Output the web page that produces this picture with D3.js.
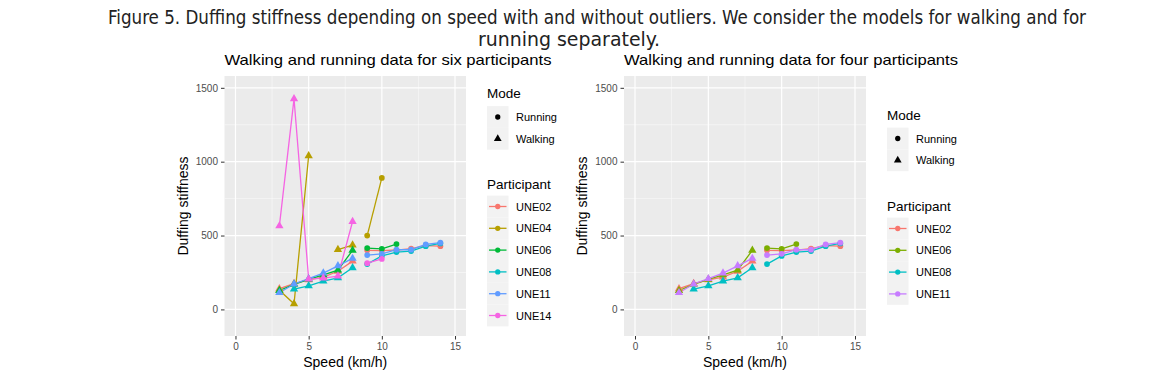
<!DOCTYPE html>
<html><head><meta charset="utf-8">
<script src="https://cdn.jsdelivr.net/npm/d3@7"></script>
<style>
html,body{margin:0;padding:0;background:#fff;}
svg{display:block;}
</style></head>
<body>
<svg id="chart" width="1153" height="378"></svg>
<script>
// ---- data ----
const walkSpeed = [3, 4, 5, 6, 7, 8];
const runSpeed = [9, 10, 11, 12, 13, 14];
const une02Walk = [140, 175, 200, 218, 258, 327];
const une02Run = [400, 398, 402, 412, 432, 428];
const une04Walk = [130, 38, 1040, null, 405, 435];
const une04Run = [500, 890, null, null, null, null];
const une06Walk = [128, 170, 203, 234, 266, 400];
const une06Run = [415, 410, 442, null, null, null];
const une08Walk = [null, 138, 160, 192, 214, 282];
const une08Run = [307, 362, 388, 395, 428, 447];
const une11Walk = [113, 172, 208, 246, 295, 345];
const une11Run = [368, 376, 404, 404, 440, 452];
const une14Walk = [565, 1425, 205, 212, 225, 595];
const une14Run = [313, 342, null, null, null, null];

const xTicks = [0, 5, 10, 15];
const yTicks = [0, 500, 1000, 1500];
const modes = ["Running", "Walking"];

const sixNames = ["UNE02", "UNE04", "UNE06", "UNE08", "UNE11", "UNE14"];
const sixColors = ["#F8766D", "#B79F00", "#00BA38", "#00BFC4", "#619CFF", "#F564E3"];
const fourNames = ["UNE02", "UNE06", "UNE08", "UNE11"];
const fourColors = ["#F8766D", "#7CAE00", "#00BFC4", "#C77CFF"];

const allData = {
  UNE02: [une02Walk, une02Run], UNE04: [une04Walk, une04Run], UNE06: [une06Walk, une06Run],
  UNE08: [une08Walk, une08Run], UNE11: [une11Walk, une11Run], UNE14: [une14Walk, une14Run]
};

const captionLines = [
  "Figure 5. Duffing stiffness depending on speed with and without outliers. We consider the models for walking and for",
  "running separately."
];
const titles = ["Walking and running data for six participants", "Walking and running data for four participants"];

// ---- drawing ----
const svg = d3.select("#chart");
const FONT = "Liberation Sans, Arial, sans-serif";
const CAPFONT = "Liberation Sans Narrow, DejaVu Sans Condensed, Liberation Sans, sans-serif";

svg.append("text").attr("x", 108).attr("y", 24)
  .style("font-family", CAPFONT)
  .attr("font-size", 19).attr("fill", "#222")
  .attr("textLength", 978).attr("lengthAdjust", "spacingAndGlyphs")
  .text(captionLines[0]);
svg.append("text").attr("x", 569).attr("y", 46).attr("text-anchor", "middle")
  .style("font-family", CAPFONT)
  .attr("font-size", 19).attr("fill", "#222")
  .attr("textLength", 182).attr("lengthAdjust", "spacingAndGlyphs")
  .text(captionLines[1]);

function panel(cfg) {
  const g = svg.append("g");
  const x = d3.scaleLinear().domain([-0.75, 15.75]).range([cfg.left, cfg.right]);
  const y = d3.scaleLinear().domain([-180, 1580]).range([336, 76]);

  // title
  g.append("text").attr("x", cfg.left).attr("y", 65)
    .style("font-family", FONT).attr("font-size", 15).attr("fill", "#000")
    .attr("textLength", cfg.titleLen).attr("lengthAdjust", "spacingAndGlyphs")
    .text(cfg.title);

  // panel background
  g.append("rect").attr("x", cfg.left).attr("y", 76)
    .attr("width", cfg.right - cfg.left).attr("height", 260).attr("fill", "#EBEBEB");

  // minor grid
  const xMinor = [2.5, 7.5, 12.5];
  const yMinor = [250, 750, 1250];
  g.selectAll(".xmin").data(xMinor).enter().append("line")
    .attr("x1", d => x(d)).attr("x2", d => x(d)).attr("y1", 76).attr("y2", 336)
    .attr("stroke", "#fff").attr("stroke-width", 0.6).attr("opacity", 0.8);
  g.selectAll(".ymin").data(yMinor).enter().append("line")
    .attr("y1", d => y(d)).attr("y2", d => y(d)).attr("x1", cfg.left).attr("x2", cfg.right)
    .attr("stroke", "#fff").attr("stroke-width", 0.6).attr("opacity", 0.8);
  // major grid
  g.selectAll(".xmaj").data(xTicks).enter().append("line")
    .attr("x1", d => x(d)).attr("x2", d => x(d)).attr("y1", 76).attr("y2", 336)
    .attr("stroke", "#fff").attr("stroke-width", 1.2);
  g.selectAll(".ymaj").data(yTicks).enter().append("line")
    .attr("y1", d => y(d)).attr("y2", d => y(d)).attr("x1", cfg.left).attr("x2", cfg.right)
    .attr("stroke", "#fff").attr("stroke-width", 1.2);

  // axes
  const xAxis = d3.axisBottom(x).tickValues(xTicks).tickFormat(d3.format("d")).tickSize(3.5).tickPadding(3);
  const yAxis = d3.axisLeft(y).tickValues(yTicks).tickFormat(d3.format("d")).tickSize(3.5).tickPadding(3);
  const xa = g.append("g").attr("transform", "translate(0,336)").call(xAxis);
  const ya = g.append("g").attr("transform", `translate(${cfg.left},0)`).call(yAxis);
  [xa, ya].forEach(a => {
    a.select(".domain").remove();
    a.selectAll(".tick line").attr("stroke", "#333");
    a.selectAll(".tick text").attr("fill", "#4D4D4D").style("font-family", FONT).attr("font-size", 10);
  });

  g.append("text").attr("x", (cfg.left + cfg.right) / 2).attr("y", 367).attr("text-anchor", "middle")
    .style("font-family", FONT).attr("font-size", 14).attr("fill", "#000").text("Speed (km/h)");
  g.append("text").attr("transform", `translate(${cfg.left - 37},206) rotate(-90)`)
    .attr("text-anchor", "middle")
    .style("font-family", FONT).attr("font-size", 14).attr("fill", "#000").text("Duffing stiffness");

  // series
  const line = d3.line().defined(d => d.v != null).x(d => x(d.s)).y(d => y(d.v));
  const series = [];
  cfg.names.forEach((n, i) => {
    const [w, r] = allData[n];
    series.push({ color: cfg.colors[i], mode: "Walking", pts: walkSpeed.map((s, k) => ({ s, v: w[k] })) });
    series.push({ color: cfg.colors[i], mode: "Running", pts: runSpeed.map((s, k) => ({ s, v: r[k] })) });
  });
  const clip = "clip" + cfg.left;
  g.append("clipPath").attr("id", clip).append("rect")
    .attr("x", cfg.left).attr("y", 76).attr("width", cfg.right - cfg.left).attr("height", 260);
  const plot = g.append("g").attr("clip-path", `url(#${clip})`);
  series.forEach(sr => {
    plot.append("path").datum(sr.pts).attr("d", line).attr("fill", "none")
      .attr("stroke", sr.color).attr("stroke-width", 1.3);
  });
  const circ = d3.symbol().type(d3.symbolCircle).size(26);
  const tri = d3.symbol().type(d3.symbolTriangle).size(30);
  series.forEach(sr => {
    plot.selectAll(null).data(sr.pts.filter(d => d.v != null)).enter().append("path")
      .attr("d", sr.mode === "Running" ? circ : tri)
      .attr("transform", d => `translate(${x(d.s)},${y(d.v)})`)
      .attr("fill", sr.color);
  });

  // legend
  const L = cfg.legend;
  const lg = g.append("g");
  lg.append("text").attr("x", L.x).attr("y", L.modeY + 4.5).style("font-family", FONT)
    .attr("font-size", 13.5).attr("fill", "#000").text("Mode");
  modes.forEach((m, i) => {
    const cy = L.modeItemY + i * L.step;
    lg.append("rect").attr("x", L.x).attr("y", cy - L.step / 2).attr("width", 21.5).attr("height", L.step)
      .attr("fill", "#F2F2F2");
    lg.append("path").attr("d", m === "Running" ? d3.symbol().type(d3.symbolCircle).size(22)()
      : d3.symbol().type(d3.symbolTriangle).size(26)())
      .attr("transform", `translate(${L.x + 10.75},${cy})`).attr("fill", "#000");
    lg.append("text").attr("x", L.x + 29).attr("y", cy + 4).style("font-family", FONT)
      .attr("font-size", 11).attr("fill", "#000").text(m);
  });
  lg.append("text").attr("x", L.x).attr("y", L.partY + 4.5).style("font-family", FONT)
    .attr("font-size", 13.5).attr("fill", "#000").text("Participant");
  cfg.names.forEach((n, i) => {
    const cy = L.partItemY + i * L.step;
    lg.append("rect").attr("x", L.x).attr("y", cy - L.step / 2).attr("width", 21.5).attr("height", L.step)
      .attr("fill", "#F2F2F2");
    lg.append("line").attr("x1", L.x + 2).attr("x2", L.x + 19.5).attr("y1", cy).attr("y2", cy)
      .attr("stroke", cfg.colors[i]).attr("stroke-width", 1.3);
    lg.append("path").attr("d", d3.symbol().type(d3.symbolCircle).size(22)())
      .attr("transform", `translate(${L.x + 10.75},${cy})`).attr("fill", cfg.colors[i]);
    lg.append("text").attr("x", L.x + 29).attr("y", cy + 4).style("font-family", FONT)
      .attr("font-size", 11).attr("fill", "#000").text(n);
  });
}

panel({ left: 224.5, right: 466, title: titles[0], titleLen: 327,
  names: sixNames, colors: sixColors,
  legend: { x: 487, modeY: 93, modeItemY: 117, partY: 184, partItemY: 206.5, step: 21.8 } });
panel({ left: 624, right: 866, title: titles[1], titleLen: 334,
  names: fourNames, colors: fourColors,
  legend: { x: 887, modeY: 115, modeItemY: 138.5, partY: 206, partItemY: 228.5, step: 21.8 } });
</script>
</body></html>
